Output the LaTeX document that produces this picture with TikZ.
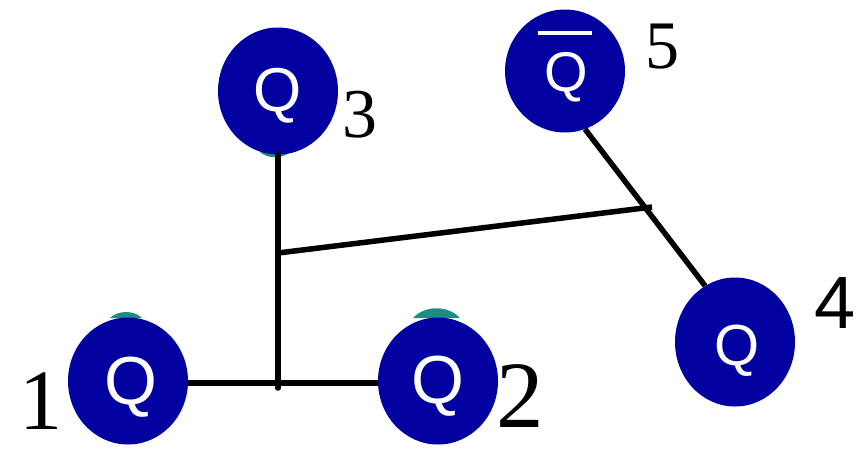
\documentclass[tikz,border=0pt]{standalone}
\usepackage{fontspec}
\setmainfont{Liberation Serif}
\newfontfamily\qsans{Liberation Sans}
\usetikzlibrary{shapes.geometric}
\definecolor{qblue}{RGB}{2,2,160}
\definecolor{qteal}{RGB}{30,140,130}
\tikzset{
  qball/.style={ellipse, fill=qblue, draw=none, minimum width=120pt, minimum height=127pt, inner sep=0pt},
  qtxt/.style={anchor=base, text=white, inner sep=0pt, font=\qsans\fontsize{#1}{#1}\selectfont},
  numlbl/.style={anchor=base, inner sep=0pt, font=\fontsize{#1}{#1}\selectfont},
  numsans/.style={anchor=base, inner sep=0pt, font=\qsans\fontsize{#1}{#1}\selectfont},
  wire/.style={line width=5.5pt, black}
}
\begin{document}
\begin{tikzpicture}[x=1pt,y=-1pt]
\useasboundingbox (0,0) rectangle (859,448);
% teal caps
\fill[qteal] (110,318) .. controls (118,310) and (134,310) .. (142,318) -- cycle;
\fill[qteal] (413,318) .. controls (425,305) and (448,305) .. (460,318) -- cycle;
\fill[qteal] (260,152) -- (290,152) .. controls (283,159) and (267,159) .. (260,152) -- cycle;
% balls
\node[qball] (c1) at (128,381) {};
\node[qball] (c2) at (438,381) {};
\node[qball] (c3) at (278,91) {};
\node[qball, minimum height=123pt] (c5) at (565,71) {};
\node[qball, minimum height=129pt] (c4) at (735,342) {};
% junction coordinates
\coordinate (j1) at (278,388);
\coordinate (j2) at (278,253);
\coordinate (j3) at (652,207);
% wires
\draw[wire] (c1.east |- 0,383) -- (c2.west |- 0,383);
\draw[wire, line cap=round] (c3.south) -- (j1);
\draw[wire] (j2) -- (j3);
\draw[wire] (c5.-71) -- (c4.118);
% letters
\node[qtxt=68] (q1) at (131,404) {Q};
\node[qtxt=68] (q2) at (438,403) {Q};
\node[qtxt=62] (q3) at (278,111) {Q};
\node[qtxt=58] (q4) at (737,365) {Q};
\node[qtxt=56] (q5) at (566,91) {Q};
\fill[white] (538,31) rectangle (592,35);
% numbers
\node[numlbl=86] (l1) at (41,429) {1};
\node[numlbl=95] (l2) at (520,427) {2};
\node[numlbl=70] (l3) at (360,137) {3};
\node[numsans=74] (l4) at (835,328) {4};
\node[numlbl=68] (l5) at (662,68) {5};
\end{tikzpicture}
\end{document}
